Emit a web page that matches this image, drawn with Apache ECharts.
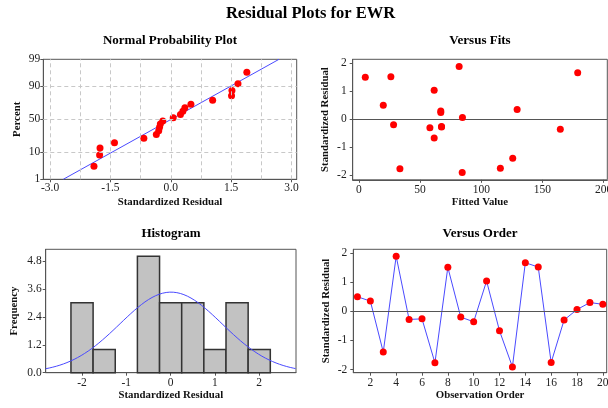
<!DOCTYPE html>
<html><head><meta charset="utf-8">
<script src="https://cdn.jsdelivr.net/npm/echarts@6/dist/echarts.min.js"></script>
<style>html,body{margin:0;padding:0;background:#fff}#c{width:608px;height:408px}</style>
</head><body><div id="c"></div>
<script>
// ---- data ----
const observationOrder = [1,2,3,4,5,6,7,8,9,10,11,12,13,14,15,16,17,18,19,20];
const residuals = [0.50, 0.35, -1.40, 1.89, -0.28, -0.26, -1.77, 1.51, -0.20, -0.36, 1.04, -0.67, -1.91, 1.67, 1.52, -1.76, -0.30, 0.06, 0.30, 0.24];
const fittedValues = [19.9, 129.3, 125.7, 81.9, 67.5, 67.5, 33.5, 5.2, 28.3, 164.6, 61.5, 61.5, 84.4, 178.8, 26.1, 115.6, 58.0, 84.6, 66.9, 66.9];
const histBinCenters = [-2, -1.5, -1, -0.5, 0, 0.5, 1, 1.5, 2];
const histCounts = [3, 1, 0, 5, 3, 3, 1, 3, 1];
const histBinWidth = 0.5;
const percentTicks = [1, 10, 50, 90, 99];
const npXTicks = [-3, -1.5, 0, 1.5, 3];
const npGridX = [-3, -2.25, -1.5, -0.75, 0, 0.75, 1.5, 2.25, 3];
const npGridPct = [10, 50, 90];
const fitsTicks = [0, 50, 100, 150, 200];
const residTicks = [-2, -1, 0, 1, 2];
const histXTicks = [-2, -1, 0, 1, 2];
const histYTicks = [0, 1.2, 2.4, 3.6, 4.8];
const orderTicks = [2, 4, 6, 8, 10, 12, 14, 16, 18, 20];

// ---- helpers ----
function qnorm(p){
  const a=[-3.969683028665376e+01,2.209460984245205e+02,-2.759285104469687e+02,1.383577518672690e+02,-3.066479806614716e+01,2.506628277459239e+00];
  const b=[-5.447609879822406e+01,1.615858368580409e+02,-1.556989798598866e+02,6.680131188771972e+01,-1.328068155288572e+01];
  const c=[-7.784894002430293e-03,-3.223964580411365e-01,-2.400758277161838e+00,-2.549732539343734e+00,4.374664141464968e+00,2.938163982698783e+00];
  const d=[7.784695709041462e-03,3.224671290700398e-01,2.445134137142996e+00,3.754408661907416e+00];
  const pl=0.02425; let q,r;
  if(p<pl){q=Math.sqrt(-2*Math.log(p));return (((((c[0]*q+c[1])*q+c[2])*q+c[3])*q+c[4])*q+c[5])/((((d[0]*q+d[1])*q+d[2])*q+d[3])*q+1);}
  if(p<=1-pl){q=p-0.5;r=q*q;return (((((a[0]*r+a[1])*r+a[2])*r+a[3])*r+a[4])*r+a[5])*q/(((((b[0]*r+b[1])*r+b[2])*r+b[3])*r+b[4])*r+1);}
  q=Math.sqrt(-2*Math.log(1-p));return -(((((c[0]*q+c[1])*q+c[2])*q+c[3])*q+c[4])*q+c[5])/((((d[0]*q+d[1])*q+d[2])*q+d[3])*q+1);
}
const n = residuals.length;
const mean = residuals.reduce((s,v)=>s+v,0)/n;
const sd = Math.sqrt(residuals.reduce((s,v)=>s+(v-mean)*(v-mean),0)/(n-1));
const sorted = residuals.slice().sort((x,y)=>x-y);
const npPoints = sorted.map((v,i)=>[v, qnorm((i+1-0.3)/(n+0.4))]);
const zTicks = percentTicks.map(p=>qnorm(p/100));
const zMin = zTicks[0], zMax = zTicks[zTicks.length-1];
const fitLine = [[mean+sd*zMin, zMin],[mean+sd*zMax, zMax]];
const hxMin=-2.82, hxMax=2.83;
const curve=[]; for(let x=hxMin; x<=hxMax+1e-9; x+=0.04){const z=(x-mean)/sd; curve.push([x, n*histBinWidth*Math.exp(-0.5*z*z)/(Math.sqrt(2*Math.PI)*sd)]);}

const FF = '"Liberation Serif", "DejaVu Serif", serif';
const lineCol = '#555';
const blue = '#4a4aff';
function axis(o){
  return Object.assign({
    type:'value', nameLocation:'middle',
    nameTextStyle:{fontFamily:FF, fontWeight:'bold', fontSize:10.8, color:'#111'},
    axisLine:{show:true, onZero:false, lineStyle:{color:lineCol, width:1}},
    splitLine:{show:false}
  }, o);
}
function lab(vals, fmt, margin){
  return {customValues:vals, formatter:fmt, fontFamily:FF, fontSize:11.5, color:'#222', margin:margin, showMinLabel:true, showMaxLabel:true, hideOverlap:false};
}
function tick(vals){ return {show:true, customValues:vals, length:3, lineStyle:{color:lineCol}}; }
function gridBox(l,t,w,h){ return {left:l, top:t, width:w, height:h, show:true, borderColor:lineCol, borderWidth:1, containLabel:false, outerBoundsMode:'none'}; }

const option = {
  animation:false,
  backgroundColor:'#fff',
  graphic:[
    {type:'text', x:310.5, y:13.5, style:{text:'Residual Plots for EWR', font:'bold 16.5px '+FF, fill:'#000', align:'center', verticalAlign:'middle'}},
    {type:'text', x:170, y:41, style:{text:'Normal Probability Plot', font:'bold 13px '+FF, fill:'#000', align:'center', verticalAlign:'middle'}},
    {type:'text', x:480, y:41, style:{text:'Versus Fits', font:'bold 13px '+FF, fill:'#000', align:'center', verticalAlign:'middle'}},
    {type:'text', x:171, y:233.5, style:{text:'Histogram', font:'bold 13px '+FF, fill:'#000', align:'center', verticalAlign:'middle'}},
    {type:'text', x:480, y:233.5, style:{text:'Versus Order', font:'bold 13px '+FF, fill:'#000', align:'center', verticalAlign:'middle'}}
  ],
  grid:[
    gridBox(43.3, 59.3, 253.4, 120),
    gridBox(352.7, 59.3, 254.6, 120.5),
    gridBox(45.7, 249.3, 250.3, 123.4),
    gridBox(353.3, 249.3, 253.4, 123.4)
  ],
  xAxis:[
    axis({gridIndex:0, min:-3.17, max:3.13, name:'Standardized Residual', nameGap:17,
      axisLabel:lab(npXTicks, v=>v.toFixed(1), 3), axisTick:tick(npXTicks)}),
    axis({gridIndex:1, min:-5.1, max:203, name:'Fitted Value', nameGap:17,
      axisLabel:lab(fitsTicks, v=>String(Math.round(v)), 4), axisTick:tick(fitsTicks)}),
    axis({gridIndex:2, min:hxMin, max:hxMax, name:'Standardized Residual', nameGap:17,
      axisLabel:lab(histXTicks, v=>String(Math.round(v)), 4), axisTick:tick(histXTicks)}),
    axis({gridIndex:3, min:0.68, max:20.3, name:'Observation Order', nameGap:17,
      axisLabel:lab(orderTicks, v=>String(Math.round(v)), 4), axisTick:tick(orderTicks)})
  ],
  yAxis:[
    axis({gridIndex:0, min:zMin, max:zMax, name:'Percent', nameGap:21,
      axisLabel:lab(zTicks, v=>{let bi=0,bd=1e9; zTicks.forEach((z,i)=>{const dd=Math.abs(z-v); if(dd<bd){bd=dd;bi=i;}}); return String(percentTicks[bi]);}, 3),
      axisTick:tick(zTicks)}),
    axis({gridIndex:1, min:-2.17, max:2.15, name:'Standardized Residual', nameGap:22,
      axisLabel:lab(residTicks, v=>String(Math.round(v)), 6), axisTick:tick(residTicks)}),
    axis({gridIndex:2, min:0, max:5.3, name:'Frequency', nameGap:26,
      axisLabel:lab(histYTicks, v=>v.toFixed(1), 4), axisTick:tick(histYTicks)}),
    axis({gridIndex:3, min:-2.11, max:2.13, name:'Standardized Residual', nameGap:22,
      axisLabel:lab(residTicks, v=>String(Math.round(v)), 6), axisTick:tick(residTicks)})
  ],
  series:[
    // panel 1 gridlines
    {type:'line', xAxisIndex:0, yAxisIndex:0, data:[], z:1, silent:true,
      markLine:{silent:true, symbol:'none', label:{show:false}, animation:false,
        lineStyle:{type:[4,3], color:'#c8c8c8', width:1},
        data: npGridX.map(v=>({xAxis:v})).concat(npGridPct.map(p=>({yAxis:qnorm(p/100)})))}},
    {type:'line', xAxisIndex:0, yAxisIndex:0, data:fitLine, symbol:'none', z:2, silent:true,
      lineStyle:{color:blue, width:1}},
    {type:'scatter', xAxisIndex:0, yAxisIndex:0, data:npPoints, symbolSize:7, z:3,
      itemStyle:{color:'#ff0000', opacity:1}},
    // panel 2
    {type:'scatter', xAxisIndex:1, yAxisIndex:1, data:fittedValues.map((f,i)=>[f, residuals[i]]), symbolSize:7, z:3,
      itemStyle:{color:'#ff0000', opacity:1},
      markLine:{silent:true, symbol:'none', label:{show:false}, animation:false, z:1,
        lineStyle:{type:'solid', color:lineCol, width:1}, data:[{yAxis:0}]}},
    // panel 3
    {type:'custom', xAxisIndex:2, yAxisIndex:2, z:2,
      data: histBinCenters.map((c,i)=>[c, histCounts[i]]),
      encode:{x:0, y:1},
      renderItem:function(params, api){
        const c=api.value(0), h=api.value(1);
        if(!h) return null;
        const p0=api.coord([c-histBinWidth/2, 0]);
        const p1=api.coord([c+histBinWidth/2, h]);
        return {type:'rect', shape:{x:p0[0], y:p1[1], width:p1[0]-p0[0], height:p0[1]-p1[1]},
          style:{fill:'#c2c2c2', stroke:'#333', lineWidth:1.5}};
      }},
    {type:'line', xAxisIndex:2, yAxisIndex:2, data:curve, symbol:'none', z:3, silent:true,
      lineStyle:{color:blue, width:1}},
    // panel 4
    {type:'line', xAxisIndex:3, yAxisIndex:3, data:observationOrder.map((o,i)=>[o, residuals[i]]),
      symbol:'circle', symbolSize:7, z:3,
      lineStyle:{color:blue, width:1}, itemStyle:{color:'#ff0000', opacity:1},
      markLine:{silent:true, symbol:'none', label:{show:false}, animation:false,
        lineStyle:{type:'solid', color:lineCol, width:1}, data:[{yAxis:0}]}}
  ]
};
const chart = echarts.init(document.getElementById('c'), null, {renderer:'canvas'});
chart.setOption(option);
</script></body></html>
